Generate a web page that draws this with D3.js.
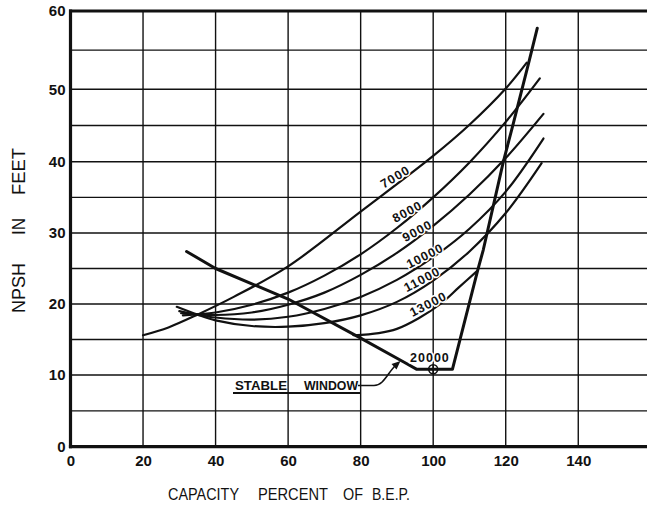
<!DOCTYPE html>
<html>
<head>
<meta charset="utf-8">
<script src="https://cdn.jsdelivr.net/npm/d3@7"></script>
<style>
  html, body { margin: 0; padding: 0; background: #fff; }
  svg { display: block; }
  text { fill: #111; }
</style>
</head>
<body>
<svg id="chart" width="647" height="507"></svg>
<script>
// ---------- data ----------
const xTickValues = [0, 20, 40, 60, 80, 100, 120, 140];
const yTickValues = [0, 10, 20, 30, 40, 50, 60];
const seriesNames = ["7000", "8000", "9000", "10000", "11000", "13000", "20000"];

const curve7000  = [[20,15.6],[27,16.7],[35,18.5],[45,21.0],[60,25.3],[80,33.0],[100,40.8],[110,45.1],[120,50.1],[125.8,53.4]];
const curve8000  = [[31,18.4],[40,18.8],[50,19.9],[60,21.6],[70,24.0],[80,27.0],[90,30.7],[100,35.0],[110,39.9],[120,45.5],[129.4,51.4]];
const curve9000  = [[30.5,18.7],[40,18.45],[50,18.8],[60,19.9],[70,21.6],[80,24.1],[90,27.2],[100,31.0],[110,35.4],[120,40.5],[130.4,46.6]];
const curve10000 = [[30,19.0],[35,18.5],[40,18.1],[50,17.8],[60,18.2],[70,19.3],[80,21.0],[90,23.4],[100,26.6],[110,30.6],[120,35.8],[130.4,43.2]];
const curve11000 = [[29.3,19.6],[35,18.5],[40,17.7],[50,16.9],[60,16.8],[70,17.3],[80,18.4],[90,20.3],[100,23.3],[110,27.4],[120,32.8],[129.9,39.8]];
const curve13000 = [[78,15.6],[85,15.9],[90,16.5],[96,18.0],[102,20.0],[107,22.3],[112,24.6]];
const curve20000 = [[32,27.4],[40,25.0],[60,20.7],[80,15.2],[92,11.8],[95.5,10.8],[105.3,10.8],[112.3,24.8],[113.8,27.6],[119.3,39.9],[122.1,45.3],[126.5,53.7],[128.7,57.8]];
const stablePoint = [100, 10.8];

// label anchors (data coords) and tilt
const labelAnchors = [[89.5,37.9],[92.8,33.0],[95.6,30.3],[97.7,26.8],[96.9,23.5],[98.6,20.0],[99.1,12.5]];
const labelAngles  = [-31, -28, -28, -27, -28, -27, 0];

// ---------- drawing ----------
const svg = d3.select("#chart");
svg.append("rect").attr("width", 647).attr("height", 507).attr("fill", "#fff");

const x = d3.scaleLinear().domain([0, 160]).range([70.5, 650.8]);
const y = d3.scaleLinear().domain(yTickValues).range([446.7, 375, 304, 233, 161.7, 89.3, 11]);

const grid = svg.append("g").attr("stroke", "#111").attr("stroke-width", 1.4);
d3.range(5, 60, 5).forEach(v => {
  grid.append("line").attr("x1", x(0)).attr("x2", 647).attr("y1", y(v)).attr("y2", y(v));
});
d3.range(20, 160, 20).forEach(v => {
  grid.append("line").attr("x1", x(v)).attr("x2", x(v)).attr("y1", y(60)).attr("y2", y(0));
});

// frame
const frame = svg.append("g").attr("stroke", "#111").attr("fill", "none").attr("stroke-linecap", "square");
frame.append("line").attr("x1", x(0)).attr("x2", 647).attr("y1", y(60)).attr("y2", y(60)).attr("stroke-width", 3);
frame.append("line").attr("x1", x(0)).attr("x2", 647).attr("y1", y(0)).attr("y2", y(0)).attr("stroke-width", 3.2);
frame.append("line").attr("x1", x(0)).attr("x2", x(0)).attr("y1", y(60)).attr("y2", y(0)).attr("stroke-width", 3.2);

// axes tick labels via d3 axes
const xAxis = d3.axisBottom(x).tickValues(xTickValues).tickSize(0).tickPadding(5).tickFormat(d3.format("d"));
const gx = svg.append("g").attr("transform", `translate(0,${y(0)})`).call(xAxis);
gx.select(".domain").remove();
gx.selectAll("text").attr("font-family", "Liberation Sans, Arial, sans-serif")
  .attr("font-weight", "bold").attr("font-size", 15).attr("fill", "#111").attr("dy", "0.95em");

const yAxis = d3.axisLeft(y).tickValues(yTickValues).tickSize(0).tickPadding(5).tickFormat(d3.format("d"));
const gy = svg.append("g").attr("transform", `translate(${x(0)},0)`).call(yAxis);
gy.select(".domain").remove();
gy.selectAll("text").attr("font-family", "Liberation Sans, Arial, sans-serif")
  .attr("font-weight", "bold").attr("font-size", 15).attr("fill", "#111");

// curves
const line = d3.line().x(d => x(d[0])).y(d => y(d[1])).curve(d3.curveCatmullRom.alpha(0.5));
const family = [curve7000, curve8000, curve9000, curve10000, curve11000, curve13000];
svg.append("g").selectAll("path").data(family).join("path")
  .attr("d", line).attr("fill", "none").attr("stroke", "#111").attr("stroke-width", 2.2)
  .attr("stroke-linecap", "round");

const lineLin = d3.line().x(d => x(d[0])).y(d => y(d[1])).curve(d3.curveLinear);
svg.append("path").datum(curve20000).attr("d", lineLin).attr("fill", "none")
  .attr("stroke", "#111").attr("stroke-width", 3).attr("stroke-linejoin", "round").attr("stroke-linecap", "round");

// curve labels
svg.append("g").selectAll("text").data(seriesNames).join("text")
  .attr("transform", (d, i) => `translate(${x(labelAnchors[i][0])},${y(labelAnchors[i][1])}) rotate(${labelAngles[i]})`)
  .attr("text-anchor", "middle").attr("dy", "0.36em")
  .attr("font-family", "Liberation Sans, Arial, sans-serif").attr("font-weight", "bold")
  .attr("font-size", 12.5).attr("letter-spacing", 1)
  .attr("stroke", "#fff").attr("stroke-width", 3).attr("paint-order", "stroke")
  .text(d => d);

// stable point marker
const sp = svg.append("g").attr("transform", `translate(${x(stablePoint[0])},${y(stablePoint[1])})`)
  .attr("stroke", "#111").attr("fill", "none").attr("stroke-width", 1.6);
sp.append("circle").attr("r", 4.5);
sp.append("line").attr("x1", -4.5).attr("x2", 4.5);
sp.append("line").attr("y1", -4.5).attr("y2", 4.5);

// STABLE WINDOW annotation
const ann = svg.append("g");
[["STABLE", 235, 52], ["WINDOW", 304, 54]].forEach(([t, px, w]) => {
  ann.append("text").attr("x", px).attr("y", 390)
    .attr("font-family", "Liberation Sans, Arial, sans-serif").attr("font-weight", "bold")
    .attr("font-size", 13.5).attr("textLength", w).attr("lengthAdjust", "spacingAndGlyphs").text(t);
});
ann.append("line").attr("x1", 233).attr("x2", 360).attr("y1", 393).attr("y2", 393)
  .attr("stroke", "#111").attr("stroke-width", 1.8);
ann.append("path").attr("d", "M358,385.5 L374,385.5 C384,385.5 388,372 396,365")
  .attr("fill", "none").attr("stroke", "#111").attr("stroke-width", 1.6);
ann.append("path").attr("d", "M400.5,361 L391.5,364 L396.5,369.5 Z").attr("fill", "#111");

// axis titles
const tfont = "Liberation Sans, Arial, sans-serif";
const xt = svg.append("g");
[["CAPACITY", 168, 71], ["PERCENT", 258, 70], ["OF", 343, 20], ["B.E.P.", 372, 38]].forEach(([t, px, w]) => {
  xt.append("text").attr("x", px).attr("y", 500).attr("font-family", tfont).attr("font-size", 16.5)
    .attr("textLength", w).attr("lengthAdjust", "spacingAndGlyphs").text(t);
});
const yt = svg.append("g");
[["NPSH", 313, 50], ["IN", 235, 17], ["FEET", 195, 47]].forEach(([t, py, w]) => {
  yt.append("text").attr("transform", `translate(25,${py}) rotate(-90)`).attr("font-family", tfont)
    .attr("font-size", 17.5).attr("textLength", w).attr("lengthAdjust", "spacingAndGlyphs").text(t);
});
</script>
</body>
</html>
